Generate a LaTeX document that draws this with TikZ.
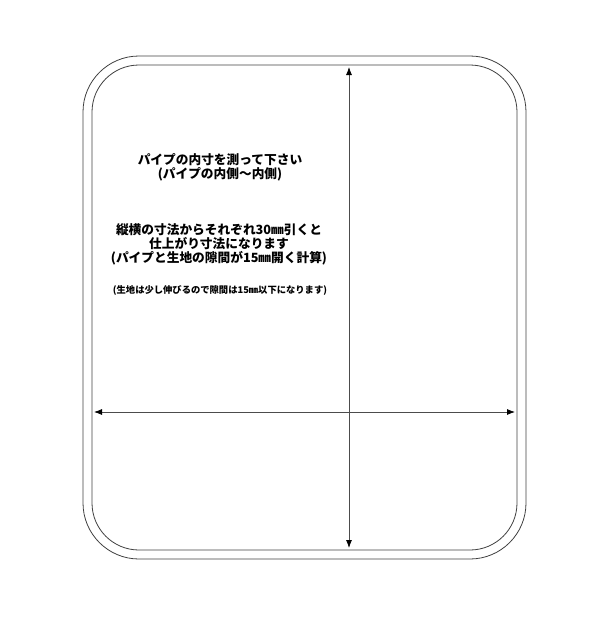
\documentclass[tikz,border=0pt]{standalone}
\usepackage{fontspec}
\newfontfamily\jpfont{Noto Sans CJK JP}
\usetikzlibrary{arrows.meta}
\tikzset{
  frame/.style = {draw=black!75, line width=0.8pt},
  dim/.style = {draw=black!70, line width=0.8pt, {Latex[length=8pt,width=6pt,black]}-{Latex[length=8pt,width=6pt,black]}},
  txt/.style = {align=center, inner sep=0pt, font=\jpfont\bfseries\fontsize{12.7}{14}\selectfont},
  note/.style = {align=center, inner sep=0pt, font=\jpfont\bfseries\fontsize{9.3}{11}\selectfont}
}
\begin{document}
\begin{tikzpicture}[x=1pt, y=-1pt]
	\useasboundingbox (0,0) rectangle (600,618);

	% pipe frame, outside and inside
	\draw[frame, rounded corners=56] (83,56) rectangle (526,559);
	\draw[frame, rounded corners=47] (92,65) rectangle (517,550);

	\coordinate (top) at (349,67);
	\coordinate (bottom) at (349,548);
	\coordinate (left) at (94,412);
	\coordinate (right) at (515,412);

	\draw[dim] (top) -- (bottom);
	\draw[dim] (left) -- (right);

	\node[txt] (measure) at (220,167) {パイプの内寸を測って下さい\\(パイプの内側～内側)};
	\node[txt] (finish) at (219,244) {縦横の寸法からそれぞれ30㎜引くと\\仕上がり寸法になります\\(パイプと生地の隙間が15㎜開く計算)};
	\node[note] (stretch) at (220,290) {(生地は少し伸びるので隙間は15㎜以下になります)};
\end{tikzpicture}
\end{document}
